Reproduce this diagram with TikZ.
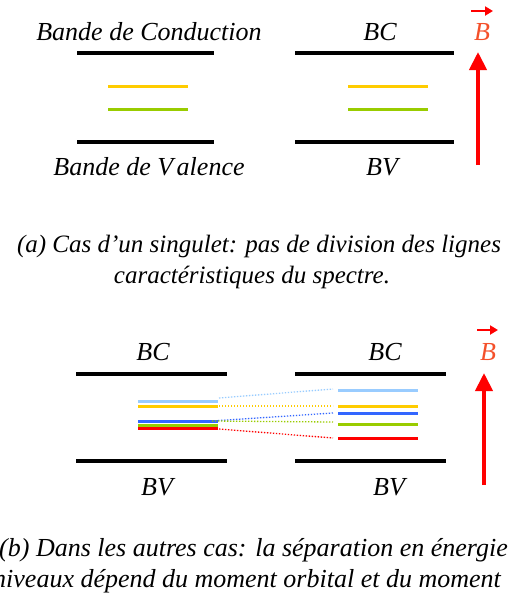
\documentclass[tikz,border=0pt]{standalone}
\usepackage{fontspec}
\setmainfont{Liberation Serif}
\usetikzlibrary{arrows.meta}
\definecolor{lblue}{HTML}{99CCFF}
\definecolor{lyellow}{HTML}{FFCC00}
\definecolor{lbluedk}{HTML}{3366FF}
\definecolor{lgreen}{HTML}{99CC00}
\definecolor{lred}{HTML}{FF0000}
\definecolor{borange}{HTML}{F4502A}
\begin{document}
\begin{tikzpicture}[x=1pt,y=-1pt,
  txt/.style={font=\fontsize{26}{31}\selectfont\itshape, inner sep=0pt, anchor=base},
  captxt/.style={font=\fontsize{25}{30}\selectfont\itshape, inner sep=0pt, anchor=base},
  band/.style={line width=4pt, black},
  level/.style={line width=3pt},
  conn/.style={line width=1.3pt, dash pattern=on 1.4pt off 1.6pt},
  field/.style={line width=4pt, lred, -{Triangle[width=17pt,length=18pt]}},
  vecB/.style={txt, text=borange},
  vecarrow/.style={line width=2pt, lred, -{Triangle[width=9pt,length=8pt]}}
]
\useasboundingbox (0,0) rectangle (508,603);
\clip (0,0) rectangle (508,603);

% ---------------- (a) ----------------
\node[txt] (tBC1) at (149,40) {Bande de Conduction};
\node[txt] (tBC2) at (380,40) {BC};
\node[vecB] (tB1) at (482,40) {B};
\coordinate (vB1s) at (471,11);
\coordinate (vB1e) at (493,11);
\draw[vecarrow] (vB1s) -- (vB1e);

\coordinate (aCL1) at (77,53);  \coordinate (aCL2) at (214,53);
\coordinate (aCR1) at (295,53); \coordinate (aCR2) at (454,53);
\coordinate (aVL1) at (77,142); \coordinate (aVL2) at (214,142);
\coordinate (aVR1) at (295,142);\coordinate (aVR2) at (454,142);
\draw[band] (aCL1) -- (aCL2);
\draw[band] (aCR1) -- (aCR2);
\draw[band] (aVL1) -- (aVL2);
\draw[band] (aVR1) -- (aVR2);

\coordinate (aYL1) at (108,86);  \coordinate (aYL2) at (188,86);
\coordinate (aGL1) at (108,109); \coordinate (aGL2) at (188,109);
\coordinate (aYR1) at (348,86);  \coordinate (aYR2) at (428,86);
\coordinate (aGR1) at (348,109); \coordinate (aGR2) at (428,109);
\draw[level, lyellow] (aYL1) -- (aYL2);
\draw[level, lgreen] (aGL1) -- (aGL2);
\draw[level, lyellow] (aYR1) -- (aYR2);
\draw[level, lgreen] (aGR1) -- (aGR2);

\coordinate (aF1) at (478,165);
\coordinate (aF2) at (478,52);
\draw[field] (aF1) -- (aF2);

\node[txt] (tBV1) at (149,175) {Bande de V\kern3.5pt alence};
\node[txt] (tBV2) at (382,175) {BV};

\node[captxt] (capa1) at (259,252) {(a) Cas d’un singulet: pas de division des lignes};
\node[captxt] (capa2) at (252,283) {caractéristiques du spectre.};

% ---------------- (b) ----------------
\node[txt] (bBC1) at (153,360) {BC};
\node[txt] (bBC2) at (385,360) {BC};
\node[vecB] (tB2) at (488,360) {B};
\coordinate (vB2s) at (477,330);
\coordinate (vB2e) at (498,330);
\draw[vecarrow] (vB2s) -- (vB2e);

\coordinate (bCL1) at (76,374);  \coordinate (bCL2) at (227,374);
\coordinate (bCR1) at (295,374); \coordinate (bCR2) at (446,374);
\coordinate (bVL1) at (76,461);  \coordinate (bVL2) at (227,461);
\coordinate (bVR1) at (295,461); \coordinate (bVR2) at (446,461);
\draw[band] (bCL1) -- (bCL2);
\draw[band] (bCR1) -- (bCR2);
\draw[band] (bVL1) -- (bVL2);
\draw[band] (bVR1) -- (bVR2);

% left stacked levels
\coordinate (Llb1) at (138,401.5); \coordinate (Llb2) at (218,401.5);
\coordinate (Ly1) at (138,406);    \coordinate (Ly2) at (218,406);
\coordinate (Lb1) at (138,421.5);  \coordinate (Lb2) at (218,421.5);
\coordinate (Lg1) at (138,425);    \coordinate (Lg2) at (218,425);
\coordinate (Lr1) at (138,428.5);  \coordinate (Lr2) at (218,428.5);
\draw[level, lblue] (Llb1) -- (Llb2);
\draw[level, lyellow] (Ly1) -- (Ly2);
\draw[level, lbluedk] (Lb1) -- (Lb2);
\draw[level, lgreen] (Lg1) -- (Lg2);
\draw[level, lred] (Lr1) -- (Lr2);

% right split levels
\coordinate (Rlb1) at (338,390);   \coordinate (Rlb2) at (418,390);
\coordinate (Ry1) at (338,406);    \coordinate (Ry2) at (418,406);
\coordinate (Rb1) at (338,413.5);  \coordinate (Rb2) at (418,413.5);
\coordinate (Rg1) at (338,424.5);  \coordinate (Rg2) at (418,424.5);
\coordinate (Rr1) at (338,438);    \coordinate (Rr2) at (418,438);
\draw[level, lblue] (Rlb1) -- (Rlb2);
\draw[level, lyellow] (Ry1) -- (Ry2);
\draw[level, lbluedk] (Rb1) -- (Rb2);
\draw[level, lgreen] (Rg1) -- (Rg2);
\draw[level, lred] (Rr1) -- (Rr2);

% dotted connectors
\coordinate (Clb) at (219,398);  \coordinate (Dlb) at (333,389);
\coordinate (Cy) at (219,406);   \coordinate (Dy) at (333,406);
\coordinate (Cb) at (212,421);   \coordinate (Db) at (333,413);
\coordinate (Cg) at (212,421);   \coordinate (Dg) at (333,422);
\coordinate (Cr) at (219,429);   \coordinate (Dr) at (333,438);
\draw[conn, lblue] (Clb) -- (Dlb);
\draw[conn, lyellow] (Cy) -- (Dy);
\draw[conn, lbluedk] (Cb) -- (Db);
\draw[conn, lgreen] (Cg) -- (Dg);
\draw[conn, lred] (Cr) -- (Dr);

\coordinate (bF1) at (484,485);
\coordinate (bF2) at (484,373);
\draw[field] (bF1) -- (bF2);

\node[txt] (bBV1) at (157,495) {BV};
\node[txt] (bBV2) at (389,495) {BV};

\node[txt, anchor=base west] (capb1) at (-1,556) {(b) Dans les autres cas: la séparation en énergie d};
\node[txt, anchor=base east] (capb2) at (501,587) {niveaux dépend du moment orbital et du moment};
\end{tikzpicture}
\end{document}
